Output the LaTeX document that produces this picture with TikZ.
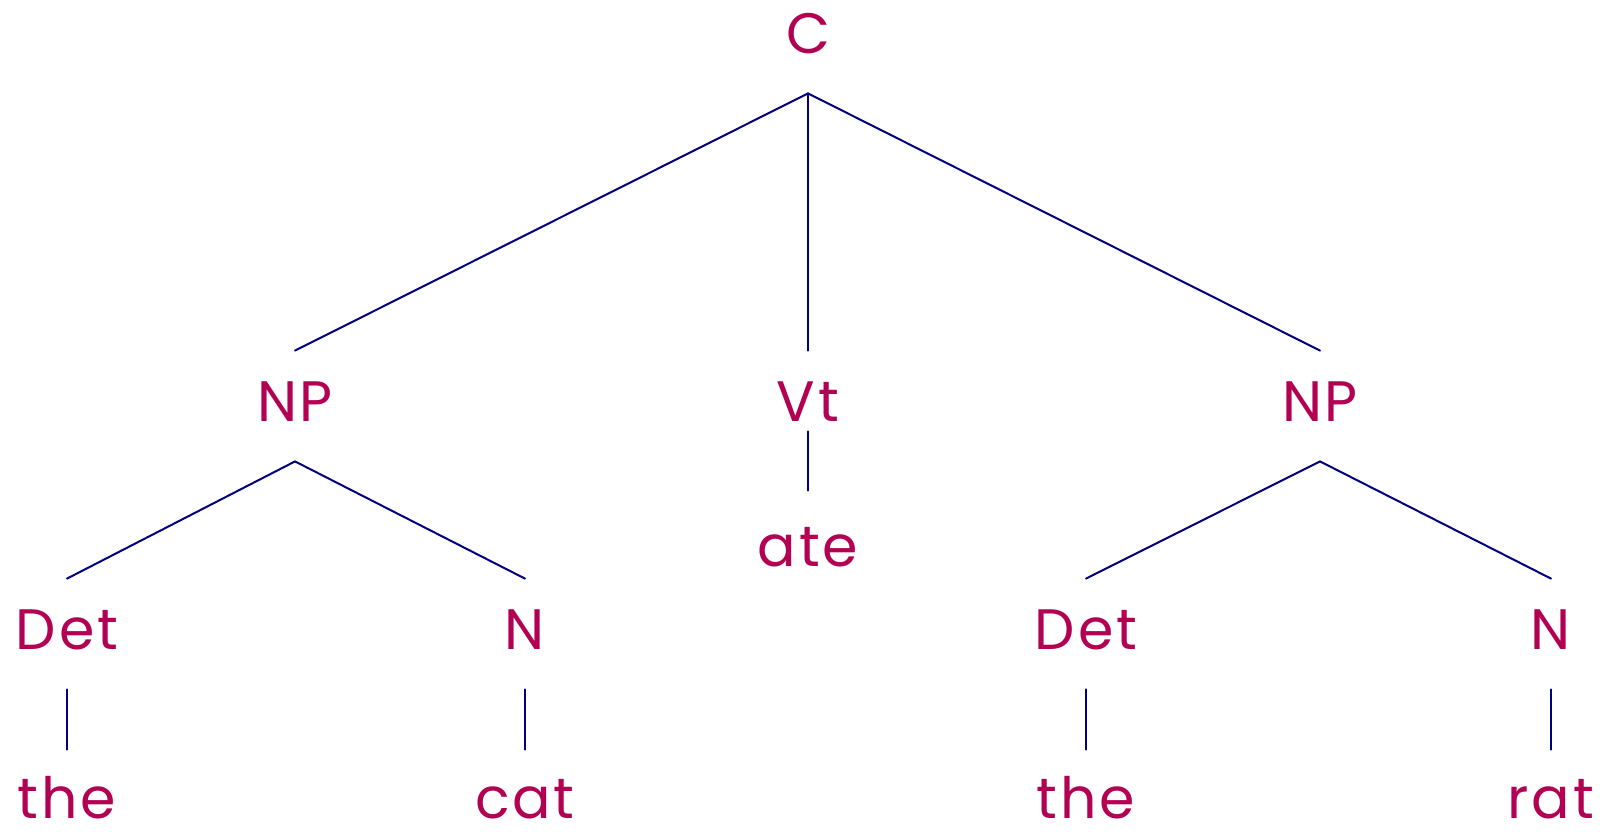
\documentclass[tikz,border=0pt]{standalone}
\usepackage{fontspec}
\setmainfont{Poppins}[LetterSpace=5]
\definecolor{mypink}{RGB}{178,0,82}
\definecolor{mynavy}{RGB}{0,0,128}

\begin{document}
\begin{tikzpicture}[x=0.5pt, y=-0.5pt,
                line cap=round,
                sym/.style={mypink, font=\fontsize{28.5}{30}\selectfont,
                            inner sep=0pt, text height=35pt, text depth=20pt, anchor=base},
                leaf/.style={sym, text height=34pt, text depth=2pt},
                branch/.style={mynavy, line width=1pt}]
                \useasboundingbox (0,0) rectangle (1610,831);

                % categories
                \node[sym] (c)    at (808,53)   {C};
                \node[sym] (np1)  at (295,421)  {NP};
                \node[sym] (vt)   at (808,421)  {Vt};
                \node[sym] (np2)  at (1320,421) {NP};
                \node[sym] (det1) at (67,649)   {Det};
                \node[sym] (n1)   at (525,649)  {N};
                \node[sym] (det2) at (1086,649) {Det};
                \node[sym] (n2)   at (1551,649) {N};

                % words
                \node[sym]  (ate)  at (808,566)  {ate};
                \node[leaf] (the1) at (67,818)   {the};
                \node[leaf] (cat)  at (525,818)  {cat};
                \node[leaf] (the2) at (1086,818) {the};
                \node[leaf] (rat)  at (1551,818) {rat};

                % branches
                \foreach \a/\b in {c/np1, c/vt, c/np2, np1/det1, np1/n1, np2/det2, np2/n2,
                                   det1/the1, n1/cat, det2/the2, n2/rat}{
                    \draw[branch] (\a.south) -- (\b.north);
                }
                \draw[branch] ([yshift=15pt]vt.south) -- ([yshift=2.5pt]ate.north);
\end{tikzpicture}
\end{document}
